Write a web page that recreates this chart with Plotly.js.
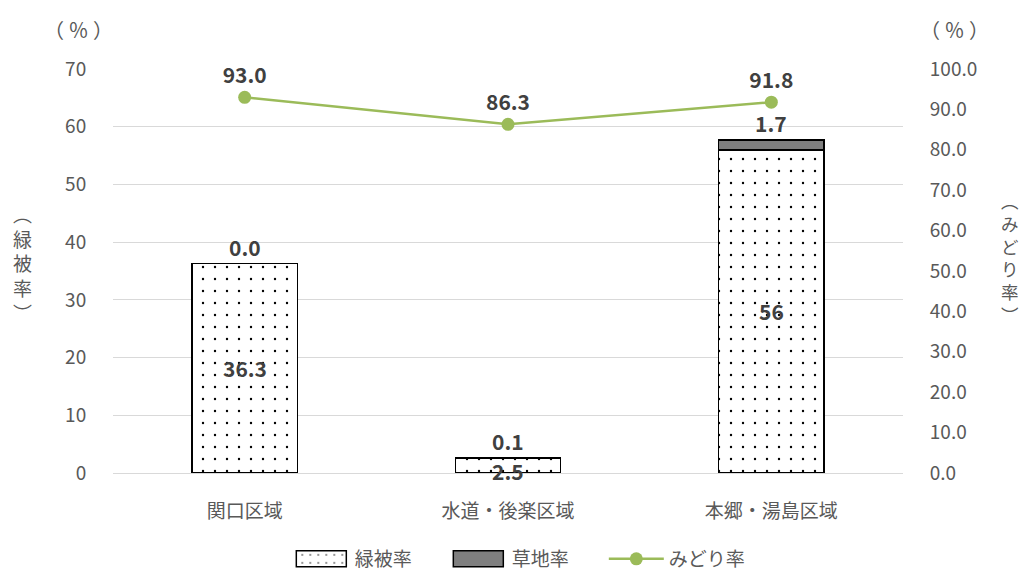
<!DOCTYPE html>
<html>
<head>
<meta charset="utf-8">
<script src="https://cdn.plot.ly/plotly-3.0.1.min.js"></script>
<style>html,body{margin:0;padding:0;background:#fff;}#chart{width:1024px;height:578px;}</style>
</head>
<body>
<div id="chart"></div>
<script>
const categories = ['関口区域', '水道・後楽区域', '本郷・湯島区域'];
const greenCover = [36.3, 2.5, 56];
const grassland = [0.0, 0.1, 1.7];
const midoriRate = [93.0, 86.3, 91.8];
const greenLabels = ['36.3', '2.5', '56'];
const grassLabels = ['0.0', '0.1', '1.7'];
const midoriLabels = ['93.0', '86.3', '91.8'];
const leftTitle = ['︵', '緑', '被', '率', '︶'];
const rightTitle = ['︵', 'み', 'ど', 'り', '率', '︶'];
const unitLabel = '（ ％ ）';

const FONT = '"Noto Sans CJK JP", "Noto Sans", sans-serif';
const TXT = '#595959';
const LBL = '#404040';

const traces = [
  {
    type: 'bar', name: '緑被率', x: categories, y: greenCover,
    marker: {color: '#ffffff', line: {color: '#000000', width: 1.5},
      pattern: {shape: '.', fgcolor: '#000000', bgcolor: '#ffffff', size: 12, solidity: 0.03}},
    hoverinfo: 'none'
  },
  {
    type: 'bar', name: '草地率', x: categories, y: grassland,
    marker: {color: '#7f7f7f', line: {color: '#000000', width: 1.5}},
    hoverinfo: 'none'
  },
  {
    type: 'scatter', mode: 'lines+markers+text', name: 'みどり率', x: categories, y: midoriRate,
    yaxis: 'y2', text: midoriLabels, textposition: 'top center',
    textfont: {family: FONT, size: 21, color: LBL, weight: 'bold'},
    line: {color: '#9bbb59', width: 2.5},
    marker: {color: '#9bbb59', size: 13},
    hoverinfo: 'none', cliponaxis: false
  }
];

const L = 113, R = 121, T = 69, B = 105, W = 1024, H = 578;
const pw = W - L - R, ph = H - T - B;
const annotations = [];
categories.forEach((c, i) => {
  annotations.push({x: c, y: greenCover[i] / 2, xref: 'x', yref: 'y', text: '<b>' + greenLabels[i] + '</b>',
    showarrow: false, font: {family: FONT, size: 21, color: LBL}, yshift: i === 1 ? -5 : 0});
  annotations.push({x: c, y: greenCover[i] + grassland[i], xref: 'x', yref: 'y', text: '<b>' + grassLabels[i] + '</b>',
    showarrow: false, yanchor: 'bottom', yshift: 0, font: {family: FONT, size: 21, color: LBL}});
});
function pix(px, py, text, size) {
  annotations.push({xref: 'paper', yref: 'paper', x: (px - L) / pw, y: (H - B - py) / ph,
    text: text, showarrow: false, xanchor: 'center', yanchor: 'middle',
    font: {family: FONT, size: size, color: TXT}});
}
pix(78, 30, unitLabel, 20);
pix(955, 30, unitLabel, 20);
pix(22, 263, leftTitle.join('<br>'), 19);
pix(1010, 257, rightTitle.join('<br>'), 17.5);

const layout = {
  width: W, height: H,
  margin: {l: L, r: R, t: T, b: B, pad: 0},
  paper_bgcolor: '#ffffff', plot_bgcolor: '#ffffff',
  font: {family: FONT, color: TXT, size: 19},
  barmode: 'stack', bargap: 0.6,
  showlegend: true,
  legend: {orientation: 'h', xref: 'container', yref: 'container', x: 0.513, xanchor: 'center', y: 0, yanchor: 'bottom',
    font: {family: FONT, size: 19, color: TXT}, itemwidth: 55, entrywidth: 87, traceorder: 'normal'},
  xaxis: {type: 'category', automargin: false, tickfont: {family: FONT, size: 19, color: TXT}, showgrid: false,
    showline: true, linecolor: '#d9d9d9', linewidth: 1, ticks: 'outside', ticklen: 21, tickcolor: 'rgba(0,0,0,0)'},
  yaxis: {range: [0, 70], dtick: 10, automargin: false, showgrid: true, gridcolor: '#d9d9d9', gridwidth: 1, zeroline: false,
    tickfont: {family: FONT, size: 19, color: TXT}, ticks: 'outside', ticklen: 22, tickcolor: 'rgba(0,0,0,0)'},
  yaxis2: {range: [0, 100], dtick: 10, automargin: false, overlaying: 'y', side: 'right', showgrid: false, zeroline: false,
    tickformat: '.1f', tickfont: {family: FONT, size: 19, color: TXT}, ticks: 'outside', ticklen: 22, tickcolor: 'rgba(0,0,0,0)'},
  annotations: annotations
};

Plotly.newPlot('chart', traces, layout, {displayModeBar: false, staticPlot: true}).then(gd => {
  // widen the bar legend swatches to wide rectangles
  gd.querySelectorAll('.legend .traces').forEach((tr, idx) => {
    if (idx < 2) {
      tr.querySelectorAll('.legendpoints path').forEach(p => {
        p.setAttribute('d', 'M-26,-8h50v16h-50z');
      });
    }
  });
});
</script>
</body>
</html>
